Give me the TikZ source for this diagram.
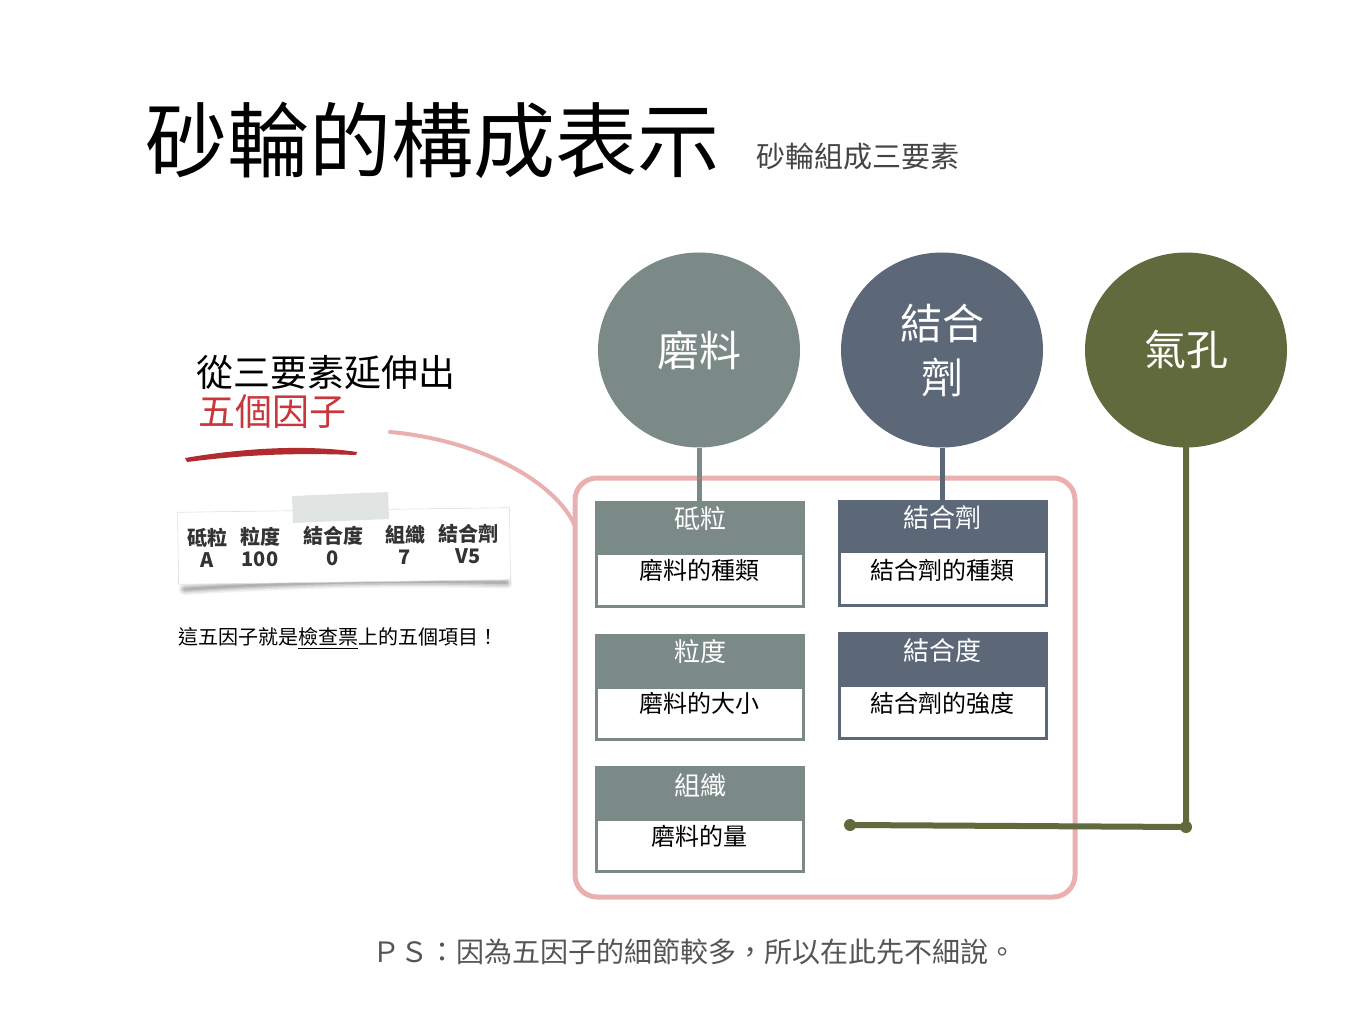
\documentclass[tikz,border=0pt]{standalone}
\usepackage{fontspec}
\setmainfont{Noto Sans CJK TC}
\usetikzlibrary{shapes.geometric}
\definecolor{grind}{HTML}{7B8987}
\definecolor{bond}{HTML}{5C6878}
\definecolor{pore}{HTML}{606A3C}
\definecolor{pinkline}{HTML}{EAB0B0}
\definecolor{redtxt}{HTML}{C9363B}
\definecolor{brush}{HTML}{B02A2E}
\definecolor{tape}{HTML}{DDE3E2}
\definecolor{psgray}{HTML}{555555}
\definecolor{subgray}{HTML}{444444}
\begin{document}
\begin{tikzpicture}[x=1pt,y=-1pt,
  elem/.style={ellipse, minimum width=202pt, minimum height=195pt, inner sep=0pt, text=white, font=\fontsize{42}{54}\selectfont, align=center},
  headbox/.style={rectangle, minimum width=210pt, minimum height=51pt, inner sep=0pt, anchor=north},
  bodybox/.style={rectangle, draw, line width=3pt, fill=white, minimum width=207pt, minimum height=51pt, inner sep=0pt, anchor=north},
  headtxt/.style={text=white, font=\fontsize{26}{30}\selectfont, inner sep=0pt},
  bodytxt/.style={text=black, font=\fontsize{24}{28}\selectfont, inner sep=0pt},
  stem/.style={line width=5pt},
  cardtxt/.style={font=\bfseries\fontsize{20}{21}\selectfont, align=center, inner sep=0pt, text=black!80},
  plain/.style={inner sep=0pt, anchor=west}
]
\useasboundingbox (0,0) rectangle (1365,1024);
\fill[white] (0,0) rectangle (1365,1024);

% titles
\node[plain, font=\fontsize{82}{90}\selectfont] (title) at (145,140) {砂輪的構成表示};
\node[plain, font=\fontsize{29}{32}\selectfont, text=subgray] (sub) at (756,156) {砂輪組成三要素};
\node[plain, font=\fontsize{37}{40}\selectfont] (lead) at (196,373) {從三要素延伸出};
\node[plain, font=\fontsize{37}{40}\selectfont, text=redtxt] (five) at (198,412) {五個因子};
\fill[brush] (185,458) .. controls (250,447) and (310,445) .. (357,452) -- (356,455) .. controls (300,453) and (250,454) .. (187,462) -- cycle;
\node[plain, font=\fontsize{20}{22}\selectfont] (note) at (178,638) {這五因子就是\underline{檢查票}上的五個項目！};
\node[plain, font=\fontsize{28}{30}\selectfont, text=psgray] (ps) at (372,952) {ＰＳ：因為五因子的細節較多，所以在此先不細說。};

% card
\begin{scope}[rotate around={0.8:(343,545)}]
  \foreach \w/\o in {12/0.05,9/0.07,6/0.09,3/0.12}
    \draw[black, opacity=\o, line width=\w pt, line cap=round] (184,587) .. controls (300,581) and (400,581) .. (506,585);
  \fill[white] (178,510) rectangle (510,582);
  \draw[black!12, line width=0.6pt] (178,510) rectangle (510,582);
  \node[cardtxt] (k1) at (207,546) {砥粒\\[1pt]A};
  \node[cardtxt] (k2) at (260,546) {粒度\\[1pt]100};
  \node[cardtxt] (k3) at (333,546) {結合度\\[1pt]0};
  \node[cardtxt] (k4) at (405,546) {組織\\[1pt]7};
  \node[cardtxt] (k5) at (468,546) {結合劑\\[1pt]V5};
\end{scope}
\fill[tape, opacity=0.9] (292,496) -- (388,492) -- (389,519) -- (293,523) -- cycle;

% pink group
\node[draw=pinkline, line width=5pt, rounded corners=22pt, minimum width=500pt, minimum height=419pt, inner sep=0pt] (grp) at (825,687.5) {};
\coordinate (cs) at (390,432);
\coordinate (ce) at (575,526);
\draw[pinkline, line width=4pt, line cap=round] (cs) .. controls (480,440) and (556,482) .. (ce);

% circles
\node[elem, fill=grind] (c1) at (699,350) {磨料};
\node[elem, fill=bond] (c2) at (942,350) {結合\\劑};
\node[elem, fill=pore] (c3) at (1186,350) {氣孔};

% boxes
\node[bodybox, draw=grind, minimum height=53pt] (b1) at (700,552) {};
\node[headbox, fill=grind] (h1) at (700,501) {};
\node[bodybox, draw=bond, minimum height=54pt] (b2) at (942.5,550) {};
\node[headbox, fill=bond, minimum height=50pt] (h2) at (942.5,500) {};
\node[bodybox, draw=grind, minimum height=52pt] (b3) at (700,686) {};
\node[headbox, fill=grind, minimum height=52pt] (h3) at (700,634) {};
\node[bodybox, draw=bond, minimum height=53pt] (b4) at (942.5,684) {};
\node[headbox, fill=bond, minimum height=52pt] (h4) at (942.5,632) {};
\node[bodybox, draw=grind, minimum height=52pt] (b5) at (700,818) {};
\node[headbox, fill=grind, minimum height=52pt] (h5) at (700,766) {};

\node[headtxt] (t1) at (700,519) {砥粒};
\node[bodytxt] (u1) at (699,570) {磨料的種類};
\node[headtxt] (t2) at (942.5,518) {結合劑};
\node[bodytxt] (u2) at (942.5,570) {結合劑的種類};
\node[headtxt] (t3) at (700,652) {粒度};
\node[bodytxt] (u3) at (699,703) {磨料的大小};
\node[headtxt] (t4) at (942.5,651) {結合度};
\node[bodytxt] (u4) at (942.5,703) {結合劑的強度};
\node[headtxt] (t5) at (700,785) {組織};
\node[bodytxt] (u5) at (699,836) {磨料的量};

% connectors
\draw[stem, grind] (c1.south) -- (c1.south |- h1.north);
\draw[stem, bond] (c2.south) -- (c2.south |- h2.north);
\coordinate (pend) at (850,825);
\coordinate (pcorner) at (1186,827);
\draw[pore, line width=6pt, line cap=round, line join=round] (c3.south) -- (pcorner) -- (pend);
\fill[pore] (pend) circle (6);
\fill[pore] (pcorner) circle (6);
\end{tikzpicture}
\end{document}
